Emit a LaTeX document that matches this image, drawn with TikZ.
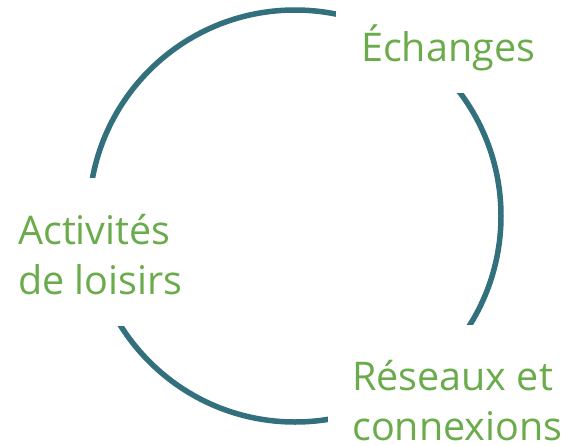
\documentclass[tikz,border=0pt]{standalone}
\usepackage{fontspec}
\setmainfont{Open Sans}
\definecolor{ringteal}{HTML}{31707C}
\definecolor{labelgreen}{HTML}{6AAB4B}
\tikzset{
  ring/.style={draw=ringteal, line width=5.5pt},
  mask/.style={fill=white, draw=none},
  lbl/.style={text=labelgreen, font=\fontsize{39.5}{50}\selectfont, inner sep=0pt, align=left, anchor=base west}
}
\begin{document}
\begin{tikzpicture}[x=1pt,y=-1pt]
  \useasboundingbox[fill=white] (0,0) rectangle (568,445);
  \coordinate (c) at (295,216);
  \draw[ring] (c) circle[radius=206];
  % gaps where the labels sit
  \fill[mask] (336,0) rectangle (568,93);
  \fill[mask] (0,178) rectangle (200,326);
  \fill[mask] (328,325) rectangle (568,445);
  \node[lbl] (ech) at (361,61) {Échanges};
  \node[lbl] (act) at (18,294) {Activités\\de loisirs};
  \node[lbl] (res) at (352,440) {Réseaux et\\connexions};
\end{tikzpicture}
\end{document}
